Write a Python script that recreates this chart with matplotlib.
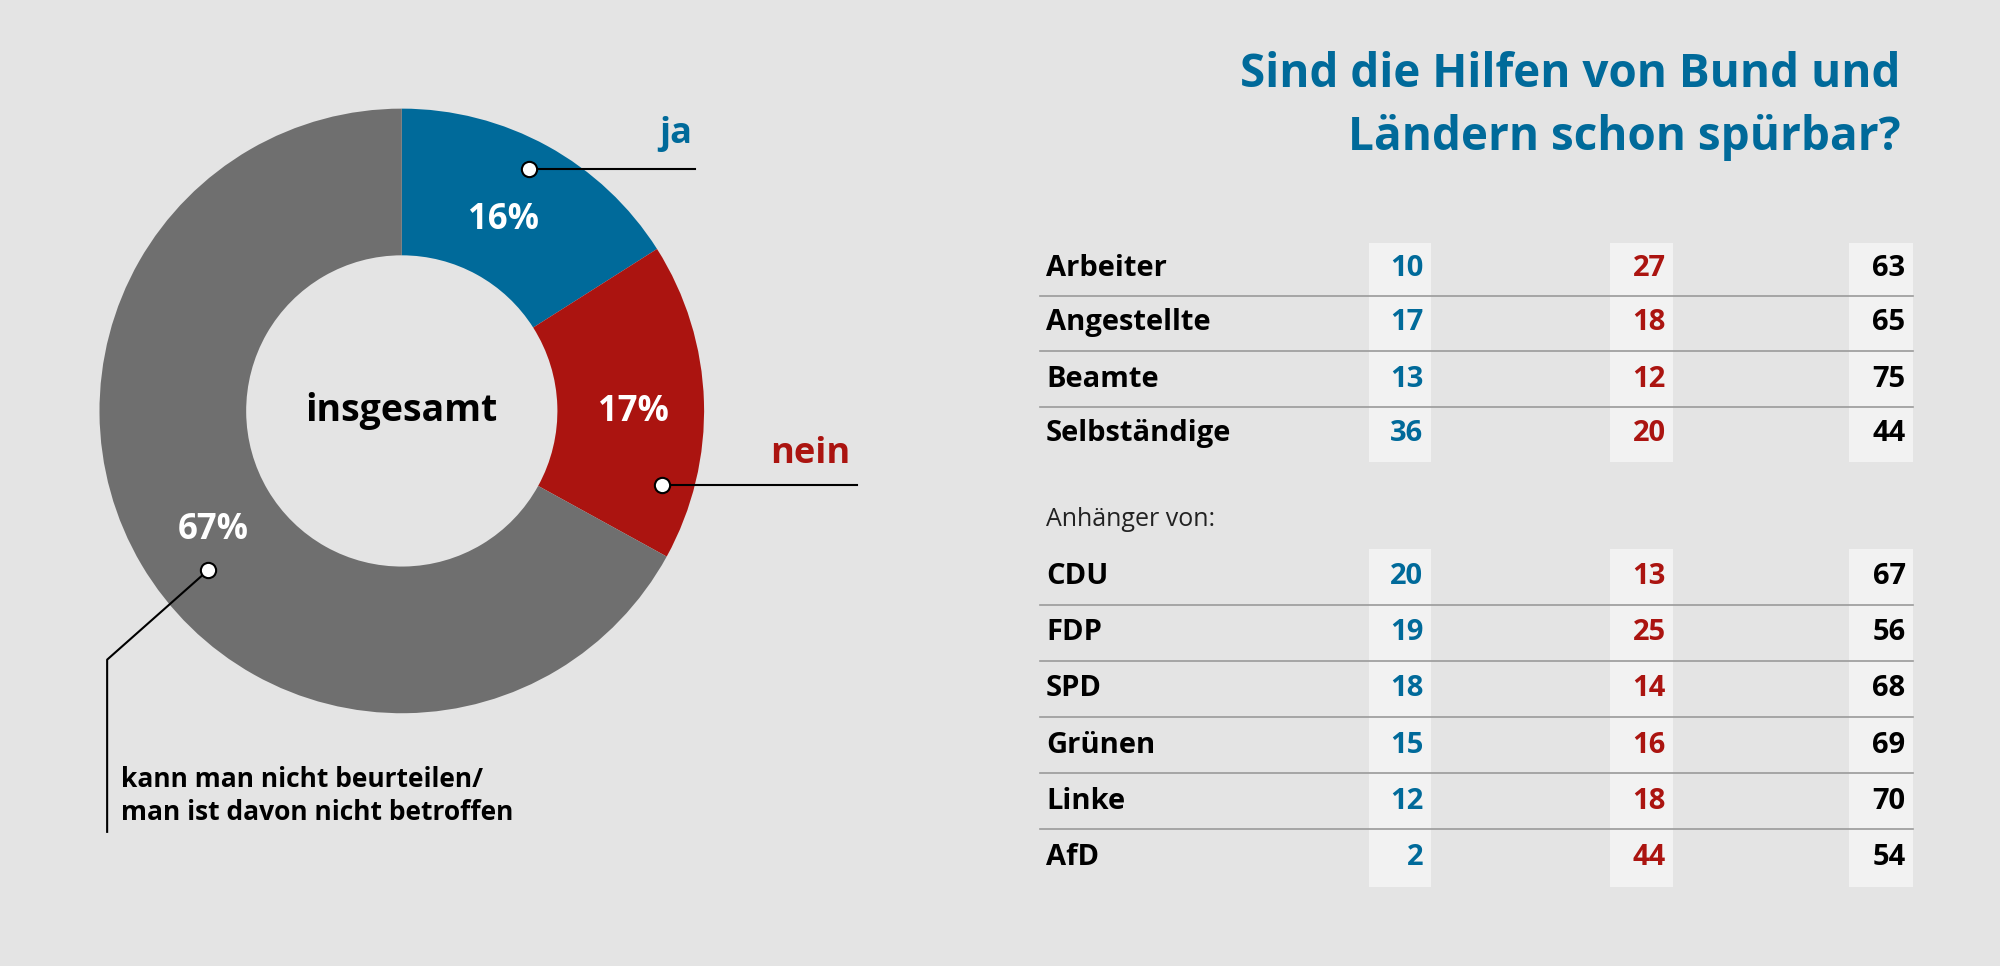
import matplotlib
matplotlib.use("Agg")
import matplotlib.pyplot as plt
from matplotlib.patches import Rectangle

plt.rcParams['font.family'] = ['Open Sans', 'DejaVu Sans']

pie_labels = ["ja", "nein", "kann man nicht beurteilen/\nman ist davon nicht betroffen"]
pie_values = [16, 17, 67]
groups1 = ["Arbeiter", "Angestellte", "Beamte", "Selbständige"]
ja1 = [10, 17, 13, 36]
nein1 = [27, 18, 12, 20]
rest1 = [63, 65, 75, 44]
groups2 = ["CDU", "FDP", "SPD", "Grünen", "Linke", "AfD"]
ja2 = [20, 19, 18, 15, 12, 2]
nein2 = [13, 25, 14, 16, 18, 44]
rest2 = [67, 56, 68, 69, 70, 54]

BG = "#e4e4e4"; BLUE = "#006a9a"; RED = "#ab1410"; GRAY = "#6f6f6f"; BOX = "#f2f2f2"
H = 757
def Y(y): return H - y

fig = plt.figure(figsize=(20, 9.66), dpi=100, facecolor=BG)
ax = fig.add_axes([0, 0, 1, 1])
ax.set_xlim(0, 1568); ax.set_ylim(0, H); ax.axis('off'); ax.set_facecolor(BG)

cx, cy, R = 315, Y(322), 237
ax.pie(pie_values, colors=[BLUE, RED, GRAY], startangle=90, counterclock=False,
       center=(cx, cy), radius=R, wedgeprops=dict(width=R - 122, linewidth=0))
ax.set_xlim(0, 1568); ax.set_ylim(0, H); ax.set_aspect('equal'); ax.axis('off')

ax.text(cx, cy, "insgesamt", ha='center', va='center', fontsize=27, fontweight='bold', color='black')
ax.text(395, Y(172), f"{pie_values[0]}%", ha='center', va='center', fontsize=25, fontweight='bold', color='white')
ax.text(497, Y(323), f"{pie_values[1]}%", ha='center', va='center', fontsize=25, fontweight='bold', color='white')
ax.text(167, Y(415), f"{pie_values[2]}%", ha='center', va='center', fontsize=25, fontweight='bold', color='white')

# leaders
ax.plot([415, 545], [Y(132), Y(132)], color='black', lw=1.5)
ax.plot([415], [Y(132)], 'o', ms=11, mfc='white', mec='black', mew=1.5)
ax.text(530, Y(105), pie_labels[0], ha='center', va='center', fontsize=26, fontweight='bold', color=BLUE)
ax.plot([519, 672], [Y(380), Y(380)], color='black', lw=1.5)
ax.plot([519], [Y(380)], 'o', ms=11, mfc='white', mec='black', mew=1.5)
ax.text(635, Y(356), pie_labels[1], ha='center', va='center', fontsize=26, fontweight='bold', color=RED)
ax.plot([163, 84, 84], [Y(447), Y(517), Y(652)], color='black', lw=1.5)
ax.plot([163], [Y(447)], 'o', ms=11, mfc='white', mec='black', mew=1.5)
ax.text(95, Y(624), pie_labels[2], ha='left', va='center', fontsize=19, fontweight='bold',
        color='black', linespacing=1.3)

# title
ax.text(1490, Y(58), "Sind die Hilfen von Bund und", ha='right', va='center', fontsize=33, fontweight='bold', color=BLUE)
ax.text(1490, Y(108), "Ländern schon spürbar?", ha='right', va='center', fontsize=33, fontweight='bold', color=BLUE)

# table boxes
cols = [(1073, 1122, BLUE), (1262, 1312, RED), (1450, 1500, 'black')]
for (y0, y1) in [(190, 362), (430, 695)]:
    for x0, x1, _ in cols:
        ax.add_patch(Rectangle((x0, Y(y1)), x1 - x0, y1 - y0, color=BOX, lw=0, zorder=1))

def rows(names, a, b, c, ys):
    for i, (n, va_, vb, vc, y) in enumerate(zip(names, a, b, c, ys)):
        ax.text(820, Y(y), n, ha='left', va='center', fontsize=21, fontweight='bold', color='black', zorder=3)
        for (x0, x1, col), v in zip(cols, (va_, vb, vc)):
            ax.text(x1 - 6, Y(y), str(v), ha='right', va='center', fontsize=21, fontweight='bold', color=col, zorder=3)
        if i < len(names) - 1:
            ax.plot([815, 1500], [Y(y + 22), Y(y + 22)], color='#9a9a9a', lw=1.2, zorder=2)

rows(groups1, ja1, nein1, rest1, [210, 253, 297, 340])
ax.text(820, Y(407), "Anhänger von:", ha='left', va='center', fontsize=18, color='#222222')
rows(groups2, ja2, nein2, rest2, [452, 496, 540, 584, 628, 672])

fig.savefig("out.png", dpi=100, facecolor=BG)
